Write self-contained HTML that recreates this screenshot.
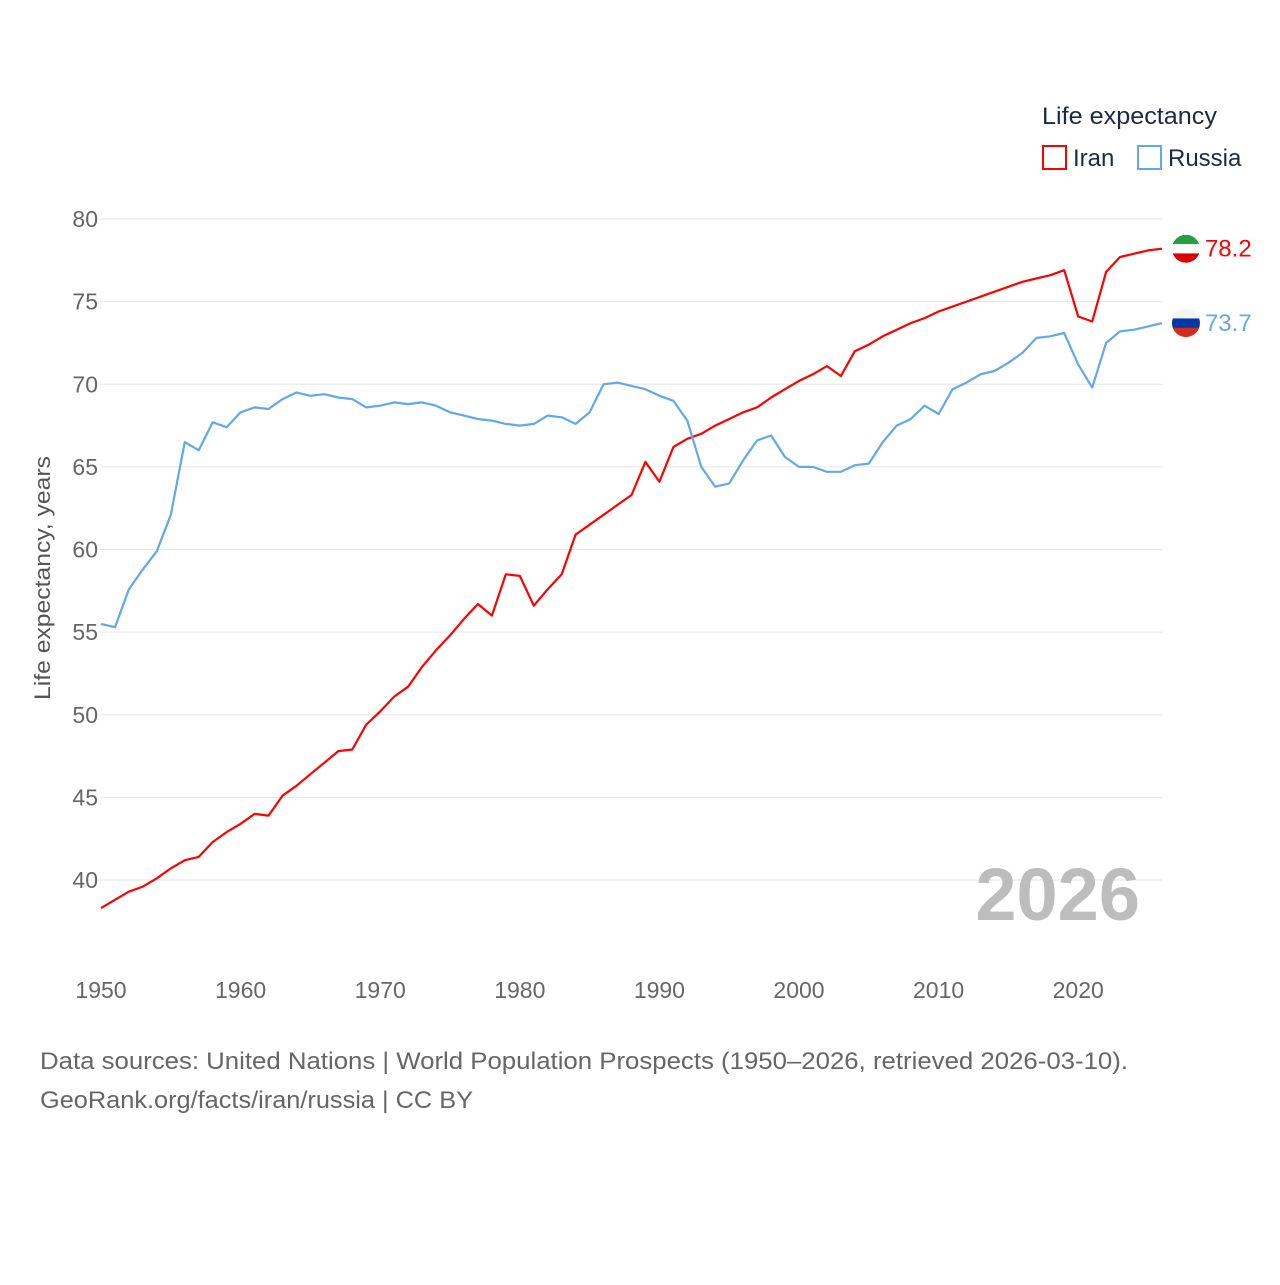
<!DOCTYPE html>
<html><head><meta charset="utf-8"><style>
body{margin:0;background:#fff;}
svg text{font-family:"Liberation Sans",sans-serif;}
</style></head><body>
<svg id="chart" width="1280" height="1280" xmlns="http://www.w3.org/2000/svg">
<rect width="1280" height="1280" fill="#fff"/>
<g id="grid"></g>
<g id="yticks"></g>
<g id="xticks"></g>
<text transform="translate(50,578) rotate(-90)" text-anchor="middle" font-size="22" fill="#555" textLength="244" lengthAdjust="spacingAndGlyphs">Life expectancy, years</text>
<text x="1140" y="920" text-anchor="end" font-size="74" font-weight="bold" fill="#bdbdbd">2026</text>
<g>
<text x="1042" y="124" font-size="24" fill="#1d2a44" textLength="175" lengthAdjust="spacingAndGlyphs">Life expectancy</text>
<rect x="1043" y="146" width="23" height="23" fill="none" stroke="#f00" stroke-width="2"/>
<text x="1073" y="166" font-size="24" fill="#1d2a44">Iran</text>
<rect x="1138" y="146" width="23" height="23" fill="none" stroke="#62a8ea" stroke-width="2"/>
<text x="1168" y="166" font-size="24" fill="#1d2a44">Russia</text>
</g>
<g id="series"></g>
<text x="40" y="1069" font-size="24" fill="#666" textLength="1088" lengthAdjust="spacingAndGlyphs">Data sources: United Nations | World Population Prospects (1950–2026, retrieved 2026-03-10).</text>
<text x="40" y="1108" font-size="24" fill="#666" textLength="433" lengthAdjust="spacingAndGlyphs">GeoRank.org/facts/iran/russia | CC BY</text>
</svg>
<script>
const years=[];for(let y=1950;y<=2026;y++)years.push(y);
const iran=[38.3,38.8,39.3,39.6,40.1,40.7,41.2,41.4,42.3,42.9,43.4,44.0,43.9,45.1,45.7,46.4,47.1,47.8,47.9,49.4,50.2,51.1,51.7,52.9,53.9,54.8,55.8,56.7,56.0,58.5,58.4,56.6,57.6,58.5,60.9,61.5,62.1,62.7,63.3,65.3,64.1,66.2,66.7,67.0,67.5,67.9,68.3,68.6,69.2,69.7,70.2,70.6,71.1,70.5,72.0,72.4,72.9,73.3,73.7,74.0,74.4,74.7,75.0,75.3,75.6,75.9,76.2,76.4,76.6,76.9,74.1,73.8,76.8,77.7,77.9,78.1,78.2];
const russia=[55.5,55.3,57.6,58.8,59.9,62.1,66.5,66.0,67.7,67.4,68.3,68.6,68.5,69.1,69.5,69.3,69.4,69.2,69.1,68.6,68.7,68.9,68.8,68.9,68.7,68.3,68.1,67.9,67.8,67.6,67.5,67.6,68.1,68.0,67.6,68.3,70.0,70.1,69.9,69.7,69.3,69.0,67.8,65.0,63.8,64.0,65.4,66.6,66.9,65.6,65.0,65.0,64.7,64.7,65.1,65.2,66.5,67.5,67.9,68.7,68.2,69.7,70.1,70.6,70.8,71.3,71.9,72.8,72.9,73.1,71.2,69.8,72.5,73.2,73.3,73.5,73.7];
const yTicks=[40,45,50,55,60,65,70,75,80];
const xTicks=[1950,1960,1970,1980,1990,2000,2010,2020];
const NS="http://www.w3.org/2000/svg";
const X=y=>101+(y-1950)*13.96;
const Y=v=>219+(80-v)*16.525;
function mk(t,a,p){const e=document.createElementNS(NS,t);for(const k in a)e.setAttribute(k,a[k]);p.appendChild(e);return e;}
const grid=document.getElementById('grid'),yt=document.getElementById('yticks'),xt=document.getElementById('xticks'),sg=document.getElementById('series');
yTicks.forEach(v=>{
const l=mk('line',{x1:100,x2:1162,y1:Y(v),y2:Y(v),stroke:'#e6e6e6','stroke-width':1},grid);


const t=mk('text',{x:98,y:Y(v)+8,'text-anchor':'end','font-size':23,fill:'#666'},yt);
t.textContent=v;


});
xTicks.forEach(v=>{
const t=mk('text',{x:X(v),y:998,'text-anchor':'middle','font-size':23,fill:'#666'},xt);
t.textContent=v;


});
function line(vals,color,name,flag){
const d=vals.map((v,i)=>(i?'L':'M')+X(years[i]).toFixed(1)+','+Y(v).toFixed(1)).join('');
const p=mk('path',{d:d,fill:'none',stroke:color,'stroke-width':2.2,'stroke-linejoin':'round'},sg);


const lv=vals[vals.length-1],cx=X(years[years.length-1])+24,cy=Y(lv);
const g=mk('g',{},sg);


mk('clipPath',{id:'c'+name},g).appendChild(document.createElementNS(NS,'circle'));
const c=g.querySelector('circle');c.setAttribute('cx',cx);c.setAttribute('cy',cy);c.setAttribute('r',14);
flag.forEach((col,i)=>mk('rect',{x:cx-14,y:cy-14+i*28/3,width:28,height:28/3+0.5,fill:col,'clip-path':'url(#c'+name+')'},g));
const t=mk('text',{x:cx+19,y:cy+8,'font-size':24,fill:color},sg);
t.textContent=lv.toFixed(1);


}
line(iran,'#ff0000','iran',['#239f40','#ffffff','#da0000']);
line(russia,'#62a8ea','russia',['#f4f4f4','#0039a6','#d52b1e']);
</script>
</body></html>
